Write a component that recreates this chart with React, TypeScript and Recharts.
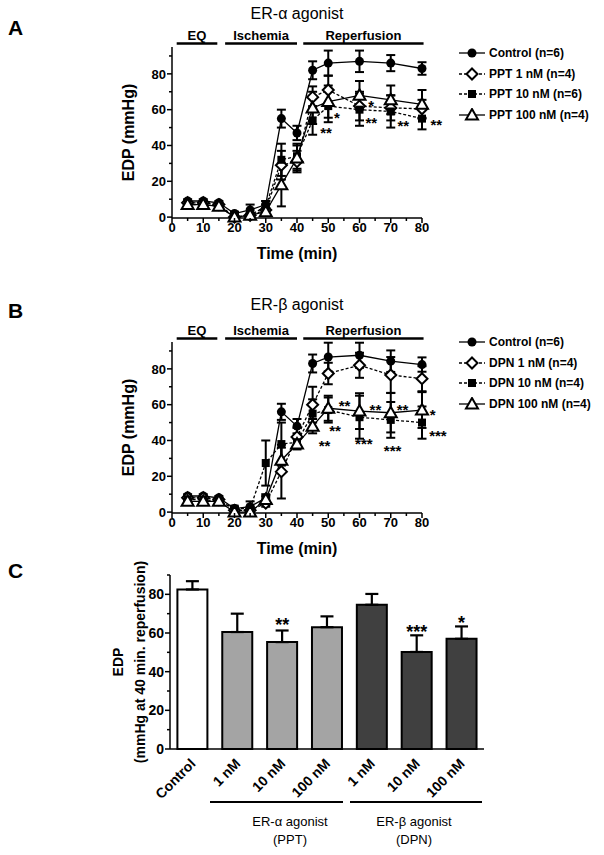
import React from "react";
import {
  ComposedChart, Line, XAxis, YAxis, ErrorBar, ReferenceLine, ReferenceDot, Legend,
  BarChart, Bar, Cell,
} from "recharts";

const FONT = '"Liberation Sans", Arial, Helvetica, sans-serif';

// time points (min)
const times = [5, 10, 15, 20, 25, 30, 35, 40, 45, 50, 60, 70, 80];

// panel A - ER-alpha agonist (PPT)
const ctrlA = [9, 9, 8, 2, 4, 7, 55, 47, 82, 86, 87, 86, 83];
const ctrlAErr = [1, 1, 1, 1, 3, 2, 5, 4, 5, 7, 6, 4.5, 3.5];
const ppt1 = [8, 8, 7, 0, 1, 4, 29, 31, 67, 71, 62, 61, 60.5];
const ppt1Err = [1, 1, 1, 0.5, 1, 3, 8, 6, 6, 8, 8, 7, 5];
const ppt10 = [7, 7, 6, 0, 1, 6, 32, 34, 54, 62, 60, 59, 55];
const ppt10Err = [1, 1, 1, 0.5, 1, 3, 9, 7, 8, 9, 9, 9, 6];
const ppt100 = [7, 7, 6, 0, 1, 3, 18, 33, 61, 64.5, 68, 65.5, 63];
const ppt100Err = [1, 1, 1, 0.5, 1, 2, 12, 7, 9, 9, 8, 8, 8];

// panel B - ER-beta agonist (DPN)
const ctrlB = [9, 9, 8, 2, 3, 8, 56, 48, 83, 86.6, 87.6, 84.3, 82.4];
const ctrlBErr = [1, 1, 1, 1, 3, 2, 4.5, 4, 5, 8, 7, 6, 4];
const dpn1 = [8, 8, 7, 1, 1, 5, 22.6, 42, 60, 77.4, 82, 76.6, 74.5];
const dpn1Err = [1, 1, 1, 0.5, 1, 2, 15, 5, 10, 6, 7, 10, 7];
const dpn10 = [7, 7, 6, 2, 2, 27.4, 38, 39, 55, 57, 53, 51.5, 50];
const dpn10Err = [1, 1, 1, 1, 1, 12.6, 12, 3, 8, 7, 12, 10, 9];
const dpn100 = [6, 6, 6, 0, 0, 7, 29, 38, 48, 58, 56.4, 55.5, 57];
const dpn100Err = [1, 1, 1, 0.5, 0.5, 2, 7, 3, 4, 7, 10, 11, 10];

// protocol phases (min)
const phaseNames = ["EQ", "Ischemia", "Reperfusion"];
const phaseFrom = [1.5, 17, 42];
const phaseTo = [14.5, 40, 80.5];

// significance marks (t, EDP)
const starsA = [
  { t: 49.3, v: 49, s: "**" }, { t: 52.8, v: 57, s: "*" }, { t: 63.7, v: 64, s: "*" },
  { t: 63.8, v: 54.5, s: "**" }, { t: 74, v: 53, s: "**" }, { t: 84.6, v: 53.5, s: "**" },
];
const starsB = [
  { t: 55.2, v: 61, s: "**" }, { t: 52.2, v: 47.3, s: "**" }, { t: 48.8, v: 39, s: "**" },
  { t: 65.1, v: 59.2, s: "**" }, { t: 61.4, v: 40, s: "***" }, { t: 73.8, v: 59.2, s: "**" },
  { t: 70.6, v: 36.2, s: "***" }, { t: 83.4, v: 56.4, s: "*" }, { t: 85.1, v: 44.4, s: "***" },
];

// panel C - EDP at 40 min reperfusion
const barGroups = ["Control", "PPT", "PPT", "PPT", "DPN", "DPN", "DPN"];
const barDoses = ["Control", "1 nM", "10 nM", "100 nM", "1 nM", "10 nM", "100 nM"];
const barValues = [82.5, 60.5, 55.3, 63, 74.6, 50.2, 57];
const barErrors = [4.3, 9.5, 6, 5.6, 5.6, 8.6, 6.4];
const barStars = ["", "", "**", "", "", "***", "*"];
const barStarY = [0, 0, 66, 0, 0, 62.7, 67.4];

const xTicks = [0, 5, 10, 15, 20, 25, 30, 35, 40, 45, 50, 55, 60, 65, 70, 75, 80];
const yTicks = [0, 10, 20, 30, 40, 50, 60, 70, 80, 90];

type Kind = "circle" | "diamond" | "square" | "triangle";

function Marker({ kind, cx, cy }: { kind: Kind; cx: number; cy: number }) {
  if (kind === "circle") return <circle cx={cx} cy={cy} r={4.5} fill="#000" />;
  if (kind === "square") return <rect x={cx - 4} y={cy - 4} width={8} height={8} fill="#000" />;
  if (kind === "diamond")
    return <polygon points={`${cx},${cy - 5.5} ${cx + 5.5},${cy} ${cx},${cy + 5.5} ${cx - 5.5},${cy}`} fill="#fff" stroke="#000" strokeWidth={2} />;
  return <polygon points={`${cx},${cy - 6} ${cx + 6},${cy + 4.5} ${cx - 6},${cy + 4.5}`} fill="#fff" stroke="#000" strokeWidth={2} />;
}

const TM = 8;

function XTick(p: any) {
  const v = p.payload.value;
  const major = v % 10 === 0;
  const ay = p.y - TM;
  return (
    <g>
      <line x1={p.x} x2={p.x} y1={ay} y2={ay + (major ? 5 : 3)} stroke="#000" strokeWidth={1.5} />
      {major && (
        <text x={p.x} y={ay + 5} dy="0.71em" textAnchor="middle" fontSize={13} fontWeight="bold" fontFamily={FONT} fill="#000">{v}</text>
      )}
    </g>
  );
}

function makeYTick(size: number) {
  return (p: any) => {
    const v = p.payload.value;
    const major = v % 20 === 0;
    const ax = p.x + TM;
    return (
      <g>
        <line x1={ax} x2={ax - (major ? 5 : 3)} y1={p.y} y2={p.y} stroke="#000" strokeWidth={1.5} />
        {major && (
          <text x={ax - 6} y={p.y} dy="0.36em" textAnchor="end" fontSize={size} fontWeight="bold" fontFamily={FONT} fill="#000">{v}</text>
        )}
      </g>
    );
  };
}

function yTitle(lines: string[], dxs: number[], size: number, fallback: { x: number; y: number; height: number }) {
  return (props: any) => {
    const vb = props && props.viewBox && props.viewBox.height ? props.viewBox : fallback;
    const cy = vb.y + vb.height / 2;
    return (
      <g>
        {lines.map((l, i) => {
          const x = vb.x + dxs[i];
          return (
            <text key={i} x={x} y={cy} transform={`rotate(-90, ${x}, ${cy})`} textAnchor="middle" dy="0.36em"
              fontSize={size} fontWeight="bold" fontFamily={FONT} fill="#000">{l}</text>
          );
        })}
      </g>
    );
  };
}

type Series = { key: string; name: string; kind: Kind; dash?: string };

function TimeChart({ data, series, stars, legendTop }: { data: any[]; series: Series[]; stars: { t: number; v: number; s: string }[]; legendTop: number }) {
  return (
    <ComposedChart width={604} height={270} data={data} margin={{ top: 47, right: 182, bottom: 7, left: 112 }}>
      <XAxis type="number" dataKey="t" domain={[0, 80]} ticks={xTicks} interval={0} tickSize={0} tickMargin={TM}
        tickLine={false} tick={XTick} stroke="#000" strokeWidth={1.5} height={45}
        label={{ value: "Time (min)", position: "insideBottom", offset: 4, fill: "#000", fontSize: 16, fontWeight: "bold", fontFamily: FONT }} />
      <YAxis type="number" domain={[0, 95]} ticks={yTicks} interval={0} tickSize={0} tickMargin={TM}
        tickLine={false} tick={makeYTick(13)} stroke="#000" strokeWidth={1.5} width={60}
        label={yTitle(["EDP (mmHg)"], [16], 16, { x: 112, y: 47, height: 171 })} />
      {phaseNames.map((n, i) => (
        <ReferenceLine key={n} segment={[{ x: phaseFrom[i], y: 97 }, { x: phaseTo[i], y: 97 }]} ifOverflow="visible"
          stroke="#000" strokeWidth={2.5}
          label={{ value: n, position: "top", offset: 3, fill: "#000", fontSize: 13, fontWeight: "bold", fontFamily: FONT }} />
      ))}
      {series.map((s) => (
        <Line key={s.key} dataKey={s.key} type="linear" stroke="#000" strokeWidth={1.3} strokeDasharray={s.dash}
          isAnimationActive={false} activeDot={false}
          dot={(p: any) => <g key={`${s.key}-${p.index}`}><Marker kind={s.kind} cx={p.cx} cy={p.cy} /></g>}>
          <ErrorBar dataKey={s.key + "E"} width={4.5} strokeWidth={2} stroke="#000" direction="y" />
        </Line>
      ))}
      {stars.map((st, i) => (
        <ReferenceDot key={i} x={st.t} y={st.v} r={0} ifOverflow="visible"
          shape={(p: any) => (
            <text x={p.cx} y={p.cy} dy="0.56em" textAnchor="middle" fontSize={15} fontWeight="bold" fontFamily={FONT} fill="#000">{st.s}</text>
          )} />
      ))}
      <Legend layout="vertical" align="center" verticalAlign="middle"
        wrapperStyle={{ left: 457, top: legendTop, width: 145 }}
        content={() => (
          <div style={{ fontFamily: FONT, fontWeight: "bold", fontSize: 12, color: "#000" }}>
            {series.map((s) => (
              <div key={s.key} style={{ display: "flex", alignItems: "center", height: 20.5 }}>
                <svg width={30} height={14}>
                  <line x1={2} x2={28} y1={7} y2={7} stroke="#000" strokeWidth={1.3} strokeDasharray={s.dash} />
                  <Marker kind={s.kind} cx={15} cy={7} />
                </svg>
                <span style={{ marginLeft: 2, whiteSpace: "nowrap" }}>{s.name}</span>
              </div>
            ))}
          </div>
        )} />
    </ComposedChart>
  );
}

const dataA = times.map((t, i) => ({
  t, ctrl: ctrlA[i], ctrlE: ctrlAErr[i], d1: ppt1[i], d1E: ppt1Err[i],
  d10: ppt10[i], d10E: ppt10Err[i], d100: ppt100[i], d100E: ppt100Err[i],
}));
const dataB = times.map((t, i) => ({
  t, ctrl: ctrlB[i], ctrlE: ctrlBErr[i], d1: dpn1[i], d1E: dpn1Err[i],
  d10: dpn10[i], d10E: dpn10Err[i], d100: dpn100[i], d100E: dpn100Err[i],
}));

const seriesA: Series[] = [
  { key: "ctrl", name: "Control (n=6)", kind: "circle" },
  { key: "d1", name: "PPT 1 nM (n=4)", kind: "diamond", dash: "3 2" },
  { key: "d10", name: "PPT 10 nM (n=6)", kind: "square", dash: "3 2" },
  { key: "d100", name: "PPT 100 nM (n=4)", kind: "triangle" },
];
const seriesB: Series[] = [
  { key: "ctrl", name: "Control (n=6)", kind: "circle" },
  { key: "d1", name: "DPN 1 nM (n=4)", kind: "diamond", dash: "3 2" },
  { key: "d10", name: "DPN 10 nM (n=4)", kind: "square", dash: "3 2" },
  { key: "d100", name: "DPN 100 nM (n=4)", kind: "triangle" },
];

const barData = barDoses.map((d, i) => ({
  id: `${barGroups[i]}-${d}`, dose: d, group: barGroups[i], value: barValues[i], err: [0, barErrors[i]],
}));
const groupFill: Record<string, string> = { Control: "#ffffff", PPT: "#a4a4a4", DPN: "#404040" };

function BarTick(p: any) {
  const idx = barData.findIndex((d) => d.id === p.payload.value);
  const x = p.x + 4;
  const y = p.y + 6.6;
  return (
    <text x={x} y={y} transform={`rotate(-45, ${x}, ${y})`} textAnchor="end" fontSize={14} fontWeight="bold" fontFamily={FONT} fill="#000">
      {idx >= 0 ? barData[idx].dose : ""}
    </text>
  );
}

const letter = (top: number): React.CSSProperties => ({
  position: "absolute", left: 8, top, fontSize: 21, lineHeight: "24px", fontWeight: "bold",
});
const title = (top: number): React.CSSProperties => ({
  position: "absolute", left: 197, width: 200, top, textAlign: "center", fontSize: 16, lineHeight: "18px",
});

export default function App() {
  return (
    <div style={{ position: "absolute", left: 0, top: 0, width: 604, height: 855, background: "#fff", fontFamily: FONT, color: "#000" }}>
      <div style={letter(16)}>A</div>
      <div style={title(5)}>ER-α agonist</div>
      <div style={{ position: "absolute", left: 0, top: 0 }}>
        <TimeChart data={dataA} series={seriesA} stars={starsA} legendTop={43} />
      </div>

      <div style={letter(299)}>B</div>
      <div style={title(296)}>ER-β agonist</div>
      <div style={{ position: "absolute", left: 0, top: 295 }}>
        <TimeChart data={dataB} series={seriesB} stars={starsB} legendTop={37} />
      </div>

      <div style={letter(559)}>C</div>
      <div style={{ position: "absolute", left: 0, top: 560 }}>
        <BarChart width={604} height={295} data={barData} margin={{ top: 15, right: 120, bottom: 46, left: 110 }} barCategoryGap="16.5%">
          <XAxis dataKey="id" type="category" interval={0} tickSize={0} tickMargin={9} tickLine={false} tick={BarTick}
            stroke="#000" strokeWidth={1.5} height={60} />
          <YAxis type="number" domain={[0, 90]} ticks={yTicks} interval={0} tickSize={0} tickMargin={TM} tickLine={false}
            tick={makeYTick(14)} stroke="#000" strokeWidth={1.5} width={60}
            label={yTitle(["EDP", "(mmHg at 40 min. reperfusion)"], [7.5, 30], 14, { x: 110, y: 15, height: 174 })} />
          <Bar dataKey="value" stroke="#000" strokeWidth={2} isAnimationActive={false}>
            {barData.map((d) => <Cell key={d.id} fill={groupFill[d.group]} />)}
            <ErrorBar dataKey="err" width={6.5} strokeWidth={2.2} stroke="#000" direction="y" />
          </Bar>
          {barData.map((d, i) => barStars[i] ? (
            <ReferenceDot key={d.id} x={d.id} y={barStarY[i]} r={0} ifOverflow="visible"
              shape={(p: any) => (
                <text x={p.cx} y={p.cy} dy="0.56em" textAnchor="middle" fontSize={18} fontWeight="bold" fontFamily={FONT} fill="#000">{barStars[i]}</text>
              )} />
          ) : null)}
        </BarChart>
      </div>

      <div style={{ position: "absolute", left: 210, width: 133, top: 801, height: 2, background: "#000" }} />
      <div style={{ position: "absolute", left: 350, width: 132, top: 801, height: 2, background: "#000" }} />
      <div style={{ position: "absolute", left: 225, width: 130, top: 813, fontSize: 13, lineHeight: "18px", textAlign: "center" }}>
        ER-α agonist<br />(PPT)
      </div>
      <div style={{ position: "absolute", left: 349, width: 130, top: 813, fontSize: 13, lineHeight: "18px", textAlign: "center" }}>
        ER-β agonist<br />(DPN)
      </div>
    </div>
  );
}
